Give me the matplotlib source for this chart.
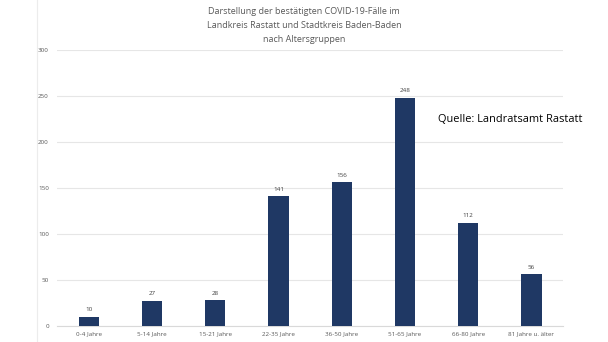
import matplotlib.pyplot as plt
import numpy as np

# Altersgruppen und Fallzahlen
groups = ["0-4 Jahre", "5-14 Jahre", "15-21 Jahre", "22-35 Jahre",
          "36-50 Jahre", "51-65 Jahre", "66-80 Jahre", "81 Jahre u. älter"]
cases = [10, 27, 28, 141, 156, 248, 112, 56]
yticks = [0, 50, 100, 150, 200, 250, 300]

plt.rcParams['font.family'] = ['Open Sans', 'DejaVu Sans']

fig = plt.figure(figsize=(6.08, 3.42), dpi=100)
ax = fig.add_axes([0.094, 0.047, 0.832, 0.807])

x = np.arange(len(groups))
bars = ax.bar(x, cases, width=0.32, color='#1f3864', zorder=3)

for xi, v in zip(x, cases):
    ax.text(xi, v + 5, str(v), ha='center', va='bottom', fontsize=4.5, color='#404040')

ax.set_xlim(-0.5, len(groups) - 0.5)
ax.set_ylim(0, 300)
ax.set_yticks(yticks)
ax.set_xticks(x)
ax.set_xticklabels(groups)
ax.tick_params(axis='both', length=0, labelsize=4.5, labelcolor='#595959')
ax.tick_params(axis='y', pad=6)
ax.tick_params(axis='x', pad=4)
ax.grid(axis='y', color='#e6e6e6', linewidth=0.8, zorder=0)
for s in ['top', 'right', 'left']:
    ax.spines[s].set_visible(False)
ax.spines['bottom'].set_color('#d9d9d9')

fig.text(0.5, 0.98, "Darstellung der bestätigten COVID-19-Fälle im\n"
         "Landkreis Rastatt und Stadtkreis Baden-Baden\nnach Altersgruppen",
         ha='center', va='top', fontsize=6.5, color='#595959', linespacing=1.75)

fig.text(0.72, 0.65, "Quelle: Landratsamt Rastatt", ha='left', va='center',
         fontsize=7.9, color='black')

# faint border line on the left
fig.add_artist(plt.Line2D([37 / 608, 37 / 608], [0, 1], color='#ececec', linewidth=0.8))

fig.savefig("out.png", dpi=100)
